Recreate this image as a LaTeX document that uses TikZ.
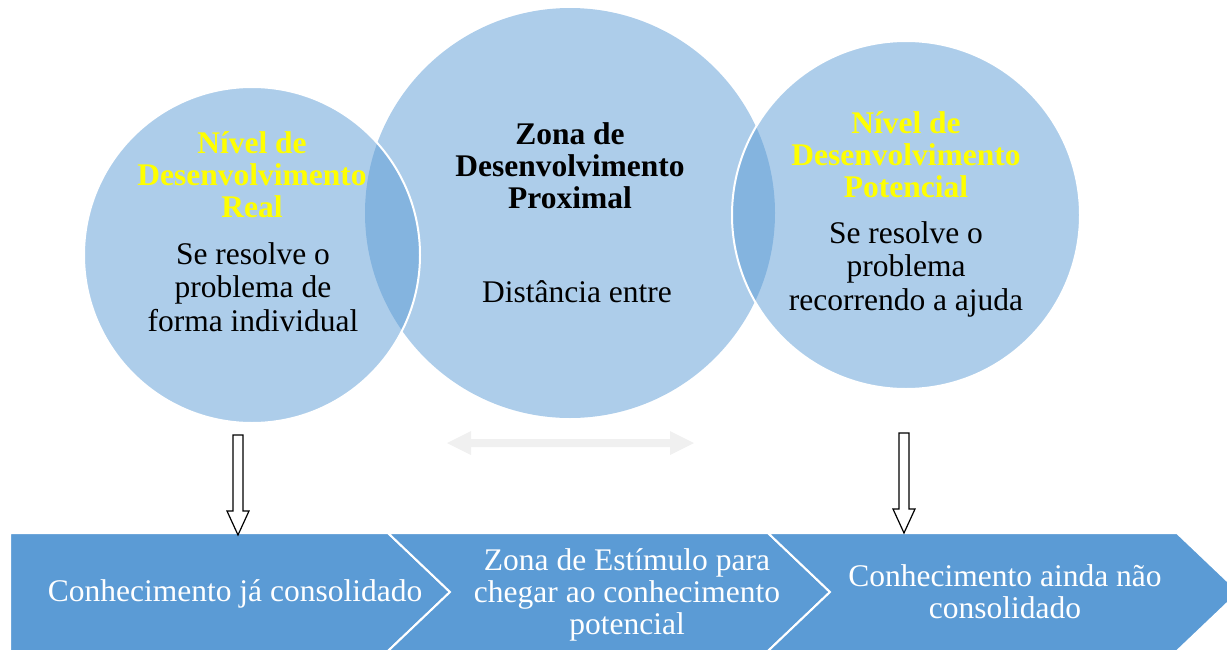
\documentclass[tikz,border=0pt]{standalone}
\usepackage{fontspec}
\setmainfont{Liberation Serif}
\definecolor{venn}{HTML}{5B9BD5}
\definecolor{nivel}{HTML}{FFFF00}
\definecolor{faint}{HTML}{F0F0F0}

\begin{document}
\begin{tikzpicture}[x=1pt,y=-1pt,
  circ/.style={circle,fill=venn,fill opacity=0.5,inner sep=0pt},
  side/.style={circ,draw=white,line width=2pt,draw opacity=1},
  head/.style={align=center,text=nivel,font=\bfseries\fontsize{31.5}{32}\selectfont},
  body/.style={align=center,font=\fontsize{31.5}{33.5}\selectfont},
  chevron/.style={fill=venn,draw=white,line width=2pt},
  chevtext/.style={align=center,text=white,font=\fontsize{31.5}{32}\selectfont},
  hollow/.style={draw=black,fill=white,line width=1.2pt}]
\useasboundingbox (0,0) rectangle (1227,651);
\clip (0,0) rectangle (1227,651);

% circles
\node[circ,minimum size=410pt] (zdp) at (570,213) {};
\node[side,minimum size=336pt] (real) at (252,255) {};
\node[side,minimum size=348pt] (pot) at (906,215) {};

\node[head] (realhead) at (252,175) {Nível de\\Desenvolvimento\\Real};
\node[body] (realbody) at (253,287) {Se resolve o\\problema de\\forma individual};
\node[head,text=black] (zdphead) at (570,166) {Zona de\\Desenvolvimento\\Proximal};
\node[body] (zdpbody) at (577,292) {Distância entre};
\node[head] (pothead) at (906,155) {Nível de\\Desenvolvimento\\Potencial};
\node[body] (potbody) at (906,269) {Se resolve o\\problema\\recorrendo a ajuda};

% distance arrow
\coordinate (dl) at (447,443);
\fill[faint] (dl) -- ++(24,-12) -- ++(0,8) -- ++(199,0) -- ++(0,-8) -- ++(24,12)
  -- ++(-24,12) -- ++(0,-8) -- ++(-199,0) -- ++(0,8) -- cycle;

% chevrons
\draw[chevron] (10,533) -- (388,533) -- (450,592) -- (388,651) -- (10,651) -- cycle;
\draw[chevron] (388,533) -- (768,533) -- (830,592) -- (768,651) -- (388,651) -- (450,592) -- cycle;
\draw[chevron] (768,533) -- (1177,533) -- (1239,592) -- (1177,651) -- (768,651) -- (830,592) -- cycle;

\node[chevtext] (c1) at (235,594) {Conhecimento já consolidado};
\node[chevtext] (c2) at (627,595) {Zona de Estímulo para\\chegar ao conhecimento\\potencial};
\node[chevtext] (c3) at (1005,592) {Conhecimento ainda não\\consolidado};

% down arrows
\coordinate (tipreal) at (238,535);
\coordinate (tippot) at (904,533);
\foreach \t in {tipreal,tippot}
  \draw[hollow] (\t) -- ++(-11,-24) -- ++(6,0) -- ++(0,-76) -- ++(10,0) -- ++(0,76)
    -- ++(6,0) -- cycle;
\end{tikzpicture}
\end{document}
